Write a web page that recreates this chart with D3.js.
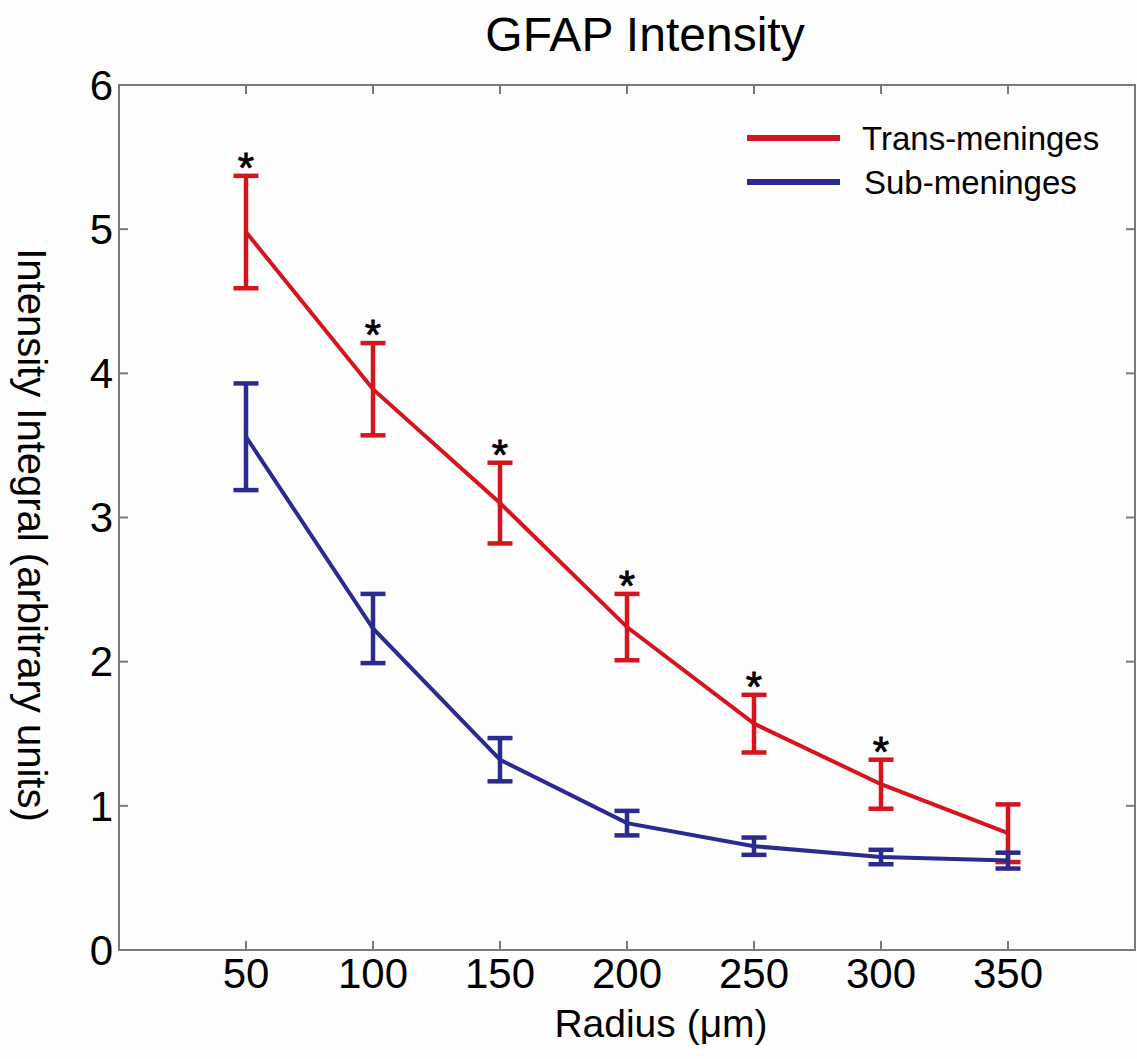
<html>
  <script src="https://d3js.org/d3.v7.min.js"></script>
  <body style="margin:0; background:#fdfdfd">
    <script>
      // values
      let radius = [50, 100, 150, 200, 250, 300, 350];
      let transMean = [4.98, 3.89, 3.10, 2.24, 1.57, 1.15, 0.81];
      let transErr  = [0.39, 0.32, 0.28, 0.23, 0.20, 0.17, 0.20];
      let subMean = [3.56, 2.23, 1.32, 0.88, 0.72, 0.645, 0.62];
      let subErr  = [0.37, 0.24, 0.15, 0.085, 0.06, 0.05, 0.055];
      let signif = [true, true, true, true, true, true, false];
      let xTicks = [50, 100, 150, 200, 250, 300, 350];
      let yTicks = [0, 1, 2, 3, 4, 5, 6];

      let width = 1137;
      let height = 1059;
      let font = "Arial, 'Liberation Sans', sans-serif";
      let red = "#d7141e";
      let blue = "#2b2a8e";
      let axisColor = "#7a7a7a";

      let svg = d3.select("body").append("svg")
                  .attr("width", width)
                  .attr("height", height)
                  .style("display", "block")
                  .style("background", "#fdfdfd");

      let x = d3.scaleLinear().domain([0, 400]).range([119, 1135]);
      let y = d3.scaleLinear().domain([0, 6]).range([950, 85]);

      // frame
      svg.append("rect")
         .attr("x", x(0)).attr("y", y(6))
         .attr("width", x(400) - x(0)).attr("height", y(0) - y(6))
         .attr("fill", "none").attr("stroke", axisColor).attr("stroke-width", 2);

      // ticks (inside, on all four sides)
      let tl = 9;
      xTicks.forEach(t => {
        svg.append("line").attr("x1", x(t)).attr("x2", x(t)).attr("y1", y(0)).attr("y2", y(0) - tl)
           .attr("stroke", axisColor).attr("stroke-width", 2);
        svg.append("line").attr("x1", x(t)).attr("x2", x(t)).attr("y1", y(6)).attr("y2", y(6) + tl)
           .attr("stroke", axisColor).attr("stroke-width", 2);
        svg.append("text").attr("x", x(t)).attr("y", 988)
           .attr("text-anchor", "middle").attr("font-family", font).attr("font-size", 42)
           .text(t);
      });
      yTicks.forEach(t => {
        svg.append("line").attr("x1", x(0)).attr("x2", x(0) + tl).attr("y1", y(t)).attr("y2", y(t))
           .attr("stroke", axisColor).attr("stroke-width", 2);
        svg.append("line").attr("x1", x(400)).attr("x2", x(400) - tl).attr("y1", y(t)).attr("y2", y(t))
           .attr("stroke", axisColor).attr("stroke-width", 2);
        svg.append("text").attr("x", 113).attr("y", y(t))
           .attr("dy", "0.35em")
           .attr("text-anchor", "end").attr("font-family", font).attr("font-size", 42)
           .text(t);
      });

      // titles
      svg.append("text").attr("x", 645).attr("y", 51)
         .attr("text-anchor", "middle").attr("font-family", font).attr("font-size", 48)
         .text("GFAP Intensity");
      svg.append("text").attr("x", 661).attr("y", 1037)
         .attr("text-anchor", "middle").attr("font-family", font).attr("font-size", 39)
         .text("Radius (\u03bcm)");
      svg.append("text")
         .attr("transform", "translate(18,535) rotate(90)")
         .attr("text-anchor", "middle").attr("font-family", font).attr("font-size", 40)
         .text("Intensity Integral (arbitrary units)");

      let line = d3.line().x(d => x(d[0])).y(d => y(d[1]));

      function drawSeries(means, errs, color) {
        let pts = radius.map((r, i) => [r, means[i]]);
        svg.append("path").attr("d", line(pts))
           .attr("fill", "none").attr("stroke", color).attr("stroke-width", 4);
        radius.forEach((r, i) => {
          let top = y(means[i] + errs[i]);
          let bot = y(means[i] - errs[i]);
          let g = svg.append("g").attr("stroke", color).attr("stroke-width", 4.5);
          g.append("line").attr("x1", x(r)).attr("x2", x(r)).attr("y1", top).attr("y2", bot);
          g.append("line").attr("x1", x(r) - 12.5).attr("x2", x(r) + 12.5).attr("y1", top).attr("y2", top);
          g.append("line").attr("x1", x(r) - 12.5).attr("x2", x(r) + 12.5).attr("y1", bot).attr("y2", bot);
        });
      }
      drawSeries(transMean, transErr, red);
      drawSeries(subMean, subErr, blue);

      // significance stars
      radius.forEach((r, i) => {
        if (!signif[i]) return;
        svg.append("text").attr("x", x(r)).attr("y", y(transMean[i] + transErr[i]) + 6)
           .attr("text-anchor", "middle").attr("font-family", font).attr("font-size", 42)
           .attr("stroke", "#000").attr("stroke-width", 0.8)
           .text("*");
      });

      // legend
      let legend = [["Trans-meninges", red, 138, 862], ["Sub-meninges", blue, 182, 864]];
      legend.forEach(([name, color, ly, tx]) => {
        svg.append("line").attr("x1", 747).attr("x2", 840).attr("y1", ly).attr("y2", ly)
           .attr("stroke", color).attr("stroke-width", 6);
        svg.append("text").attr("x", tx).attr("y", ly).attr("dy", "0.35em")
           .attr("font-family", font).attr("font-size", 33)
           .text(name);
      });
    </script>
  </body>
</html>
